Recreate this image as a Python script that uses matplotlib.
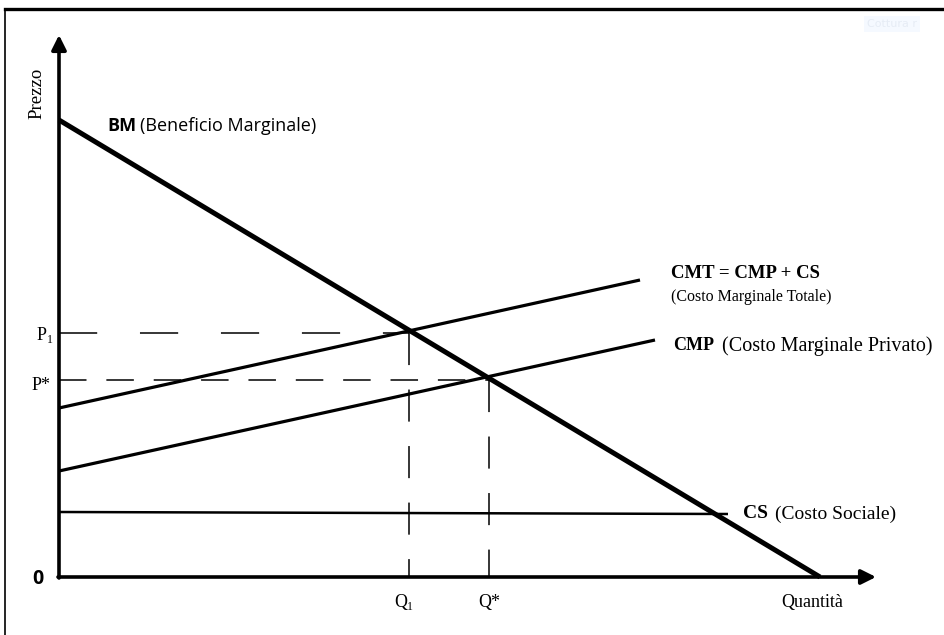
import matplotlib
matplotlib.use("Agg")
import matplotlib.pyplot as plt
from matplotlib.lines import Line2D

# curve end points (quantity, price)
bm_q = [0, 761]
bm_p = [457, 0]
cmt_q = [0, 581]
cmt_p = [169, 297]
cmp_q = [0, 596]
cmp_p = [106, 237]
cs_q = [0, 669]
cs_p = [65, 63]

# equilibria
q1, p1 = 350, 244
q_star, p_star = 430, 197

q_max, p_max = 817, 542

serif = ["Liberation Serif", "DejaVu Serif"]

fig = plt.figure(figsize=(9.44, 6.35), dpi=100)
ax = fig.add_axes([59 / 944, 58 / 635, 817 / 944, 542 / 635])
ax.set_xlim(0, q_max)
ax.set_ylim(0, p_max)
ax.axis("off")

# frame of the screenshot
fig.add_artist(Line2D([5 / 944, 1], [1 - 9 / 635, 1 - 9 / 635], color="black", lw=2.4))
fig.add_artist(Line2D([5 / 944, 5 / 944], [0, 1 - 9 / 635], color="black", lw=1.2))

# axes with arrows
arrow = dict(arrowstyle="-|>", lw=2.6, color="black", mutation_scale=22,
             shrinkA=0, shrinkB=0)
ax.annotate("", xy=(q_max, 0), xytext=(-1, 0), arrowprops=arrow, annotation_clip=False)
ax.annotate("", xy=(0, p_max), xytext=(0, -1), arrowprops=arrow, annotation_clip=False)

# curves
ax.plot(bm_q, bm_p, color="black", lw=3.6, solid_capstyle="butt", clip_on=False)
ax.plot(cmt_q, cmt_p, color="black", lw=2.3, solid_capstyle="butt")
ax.plot(cmp_q, cmp_p, color="black", lw=2.3, solid_capstyle="butt")
ax.plot(cs_q, cs_p, color="black", lw=1.8, solid_capstyle="butt")

# dashed guides
ax.plot([0, q1], [p1, p1], color="black", lw=1.1, dashes=(25, 28))
ax.plot([q1, q1], [p1, 0], color="black", lw=1.1, dashes=(21, 16))
ax.plot([0, q_star], [p_star, p_star], color="black", lw=1.1, dashes=(18, 13))
ax.plot([q_star, q_star], [p_star, 0], color="black", lw=1.1, dashes=(21, 16))

# labels
ax.text(48, 451, "BM", fontsize=13, fontweight="bold", family="Open Sans",
        va="center", ha="left")
ax.text(81, 451, "(Beneficio Marginale)", fontsize=13, family="Open Sans",
        va="center", ha="left")

ax.text(612, 303, "CMT = CMP + CS", fontsize=13.5, fontweight="bold", family=serif,
        va="center", ha="left")
ax.text(612, 280, "(Costo Marginale Totale)", fontsize=11.5, family=serif,
        va="center", ha="left")

ax.text(614, 231, "CMP", fontsize=13, fontweight="bold", family=serif,
        va="center", ha="left")
ax.text(663, 231, "(Costo Marginale Privato)", fontsize=14.5, family=serif,
        va="center", ha="left")

ax.text(684, 63, "CS", fontsize=14, fontweight="bold", family=serif,
        va="center", ha="left")
ax.text(716, 63, "(Costo Sociale)", fontsize=14, family=serif,
        va="center", ha="left")

ax.text(-12, p1 - 3, "P", fontsize=13, family=serif, va="center", ha="right")
ax.text(-12, p1 - 7, "1", fontsize=8.5, family=serif, va="center", ha="left")
ax.text(-8, p_star - 5, "P*", fontsize=13, family=serif, va="center", ha="right")
ax.text(q1 - 2, -26, "Q", fontsize=13, family=serif, va="center", ha="right")
ax.text(q1 - 2, -30, "1", fontsize=8.5, family=serif, va="center", ha="left")
ax.text(q_star, -26, "Q*", fontsize=13, family=serif, va="center", ha="center")
ax.text(753, -26, "Quantit\u00e0", fontsize=13, family=serif, va="center", ha="center")
ax.text(-22, 484, "Prezzo", fontsize=13.5, family=serif, rotation=90,
        va="center", ha="center")
ax.text(-21, -2, "0", fontsize=14, fontweight="bold", family="Open Sans",
        va="center", ha="center")

# faint watermark in the corner
fig.text(0.945, 0.962, "Cottura r", fontsize=8, color="#e6ecf5", ha="center", va="center",
         bbox=dict(boxstyle="square,pad=0.3", fc="#f5f9ff", ec="none"))

fig.savefig("out.png", dpi=100)
